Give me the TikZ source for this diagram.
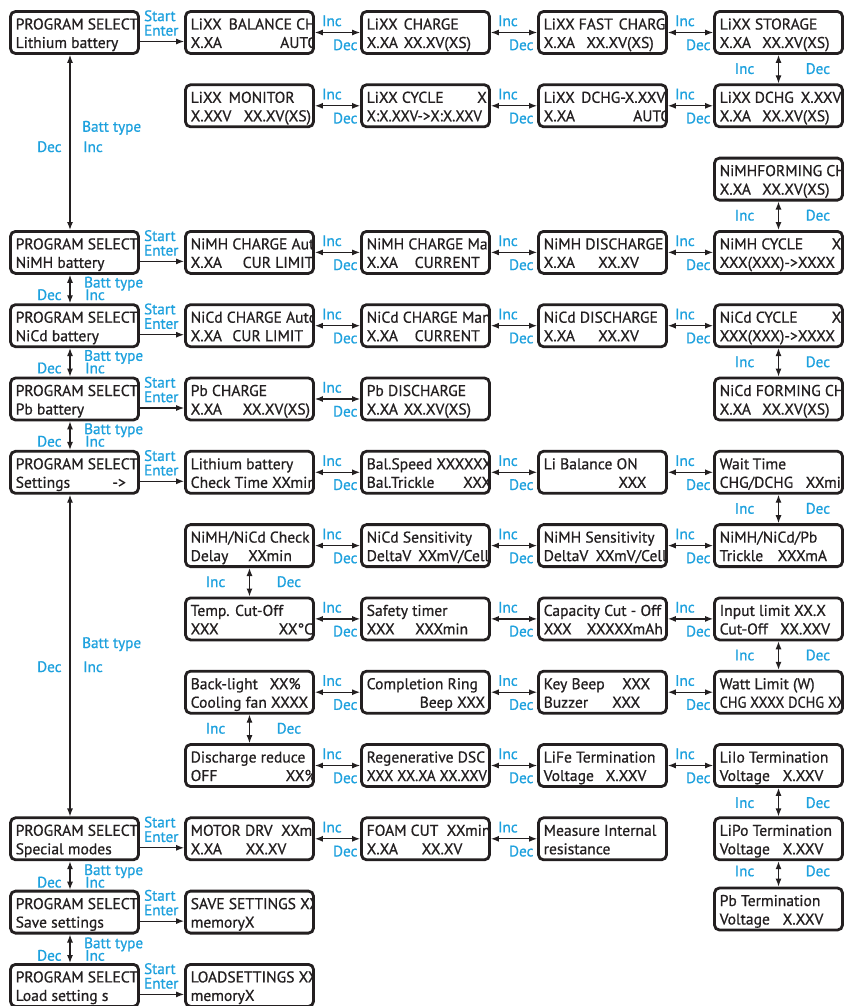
\documentclass[tikz,border=0pt]{standalone}
\usepackage{fontspec}
\setmainfont[FakeBold=0.7]{PT Sans}
\usetikzlibrary{arrows.meta}
\definecolor{ink}{RGB}{35,31,32}
\definecolor{lblue}{RGB}{29,161,222}
\tikzset{
  lcdbox/.style={draw=ink, line width=2.8pt, rounded corners=5pt, minimum width=128pt, minimum height=42pt, inner sep=0pt},
  lcdtxt/.style={anchor=base west, inner sep=0pt, text=ink, font=\fontsize{15.6}{18}\selectfont},
  lbl/.style={anchor=base west, inner sep=0pt, text=lblue, font=\fontsize{15.2}{16}\selectfont},
  conn/.style={draw=ink, line width=1.2pt},
  >={Latex[length=8pt,width=6pt]}
}
\newcommand\tbx[2]{\makebox[#1pt][l]{#2}}
\newcommand\lcd[5]{%
  \begin{scope}
    \clip (#2+1.4,#3+1.4) rectangle (#2+129.6,#3+43.6);
    \node[lcdtxt] (#1-a) at (#2+6.5,#3+19.5) {#4};
    \node[lcdtxt] (#1-b) at (#2+6.5,#3+38) {#5};
  \end{scope}
  \node[lcdbox] (#1) at (#2+65.5,#3+22.5) {};
}
\newcommand\hconn[2]{%
  \draw[conn,<->] (#1.east) -- (#2.west);
  \node[lbl] (#1-#2-i) at ([xshift=7pt,yshift=-16pt]#1.north east) {Inc};
  \node[lbl] (#1-#2-d) at ([xshift=18pt,yshift=-40pt]#1.north east) {Dec};
}
\newcommand\vconn[3]{%
  \draw[conn,<->] (#1.south) -- (#2.north);
  \node[lbl] (#1-#2-i) at ([xshift=-44pt,yshift=-#3pt]#1.south) {Inc};
  \node[lbl] (#1-#2-d) at ([xshift=27pt,yshift=-#3pt]#1.south) {Dec};
}
\newcommand\psgo[2]{%
  \draw[conn,->] ([yshift=-9pt]#1.east) -- ([yshift=-9pt]#2.west);
  \node[lbl] (#1-s) at ([xshift=4pt,yshift=-11pt]#1.north east) {Start};
  \node[lbl] (#1-e) at ([xshift=4pt,yshift=-25.5pt]#1.north east) {Enter};
}
% name A, name B, batt-type baseline, inc/dec baseline, x of Batt/Inc
\newcommand\psconn[5]{%
  \draw[conn,<->] ([xshift=-4.5pt]#1.south) -- ([xshift=-4.5pt]#2.north);
  \node[lbl] (#1-#2-b) at (#5,#3) {Batt type};
  \node[lbl] (#1-#2-d) at (37,#4) {Dec};
  \node[lbl] (#1-#2-i) at (#5+1,#4) {Inc};
}
\begin{document}
\begin{tikzpicture}[x=1pt,y=-1pt]
\useasboundingbox[fill=white] (0,0) rectangle (845,1006);
% ---------- Lithium
\lcd{ps0}{9}{10}{PROGRAM SELECT}{Lithium battery}
\lcd{li1}{184}{10}{\tbx{38}{LiXX}BALANCE CHG}{\tbx{89.5}{X.XA}AUTO}
\lcd{li2}{360}{10}{\tbx{37}{LiXX}CHARGE}{\tbx{37}{X.XA}XX.XV(XS)}
\lcd{li3}{537}{10}{\tbx{35}{LiXX}\tbx{40}{FAST}CHARGE}{\tbx{42.7}{X.XA}XX.XV(XS)}
\lcd{li4}{713}{10}{LiXX STORAGE}{\tbx{42.5}{X.XA}XX.XV(XS)}
\lcd{li5}{184}{83.3}{\tbx{38}{LiXX}MONITOR}{\tbx{53}{X.XXV}XX.XV(XS)}
\lcd{li6}{360}{83.3}{\tbx{110.5}{LiXX CYCLE}X}{\scalebox{0.96}[1]{X:X.XXV->X:X.XXV}}
\lcd{li7}{537}{83.3}{\tbx{37.5}{LiXX}DCHG-X.XXV}{\tbx{89.5}{X.XA}AUTO}
\lcd{li8}{713}{83.3}{\tbx{35}{LiXX}\tbx{46}{DCHG}X.XXV}{\tbx{42.5}{X.XA}XX.XV(XS)}
% ---------- NiMH
\lcd{nm5}{713}{156.6}{NiMHFORMING CHG}{\tbx{42.5}{X.XA}XX.XV(XS)}
\lcd{ps1}{9}{229.9}{PROGRAM SELECT}{NiMH battery}
\lcd{nm1}{184}{229.9}{NiMH CHARGE Auto}{\tbx{52}{X.XA}CUR LIMIT}
\lcd{nm2}{360}{229.9}{NiMH CHARGE Man}{\tbx{48}{X.XA}CURRENT}
\lcd{nm3}{537}{229.9}{NiMH DISCHARGE}{\tbx{54.5}{X.XA}XX.XV}
\lcd{nm4}{713}{229.9}{\tbx{112}{NiMH CYCLE}X}{XXX(XXX)->XXXX}
% ---------- NiCd
\lcd{ps2}{9}{303.2}{PROGRAM SELECT}{NiCd battery}
\lcd{nc1}{184}{303.2}{NiCd CHARGE Auto}{\tbx{41.7}{X.XA}CUR LIMIT}
\lcd{nc2}{360}{303.2}{NiCd CHARGE Man}{\tbx{48}{X.XA}CURRENT}
\lcd{nc3}{537}{303.2}{NiCd DISCHARGE}{\tbx{54.5}{X.XA}XX.XV}
\lcd{nc4}{713}{303.2}{\tbx{112}{NiCd CYCLE}X}{XXX(XXX)->XXXX}
% ---------- Pb
\lcd{ps3}{9}{376.5}{PROGRAM SELECT}{Pb battery}
\lcd{pb1}{184}{376.5}{Pb CHARGE}{\tbx{52}{X.XA}XX.XV(XS)}
\lcd{pb2}{360}{376.5}{Pb DISCHARGE}{\tbx{37}{X.XA}XX.XV(XS)}
\lcd{nc5}{713}{376.5}{NiCd FORMING CHG}{\tbx{42.5}{X.XA}XX.XV(XS)}
% ---------- Settings
\lcd{ps4}{9}{449.8}{PROGRAM SELECT}{\tbx{96.7}{Settings}->}
\lcd{st1}{184}{449.8}{Lithium battery}{Check Time XXmin}
\lcd{st2}{360}{449.8}{Bal.Speed XXXXXX}{\tbx{96.5}{Bal.Trickle}XXX}
\lcd{st3}{537}{449.8}{Li Balance ON}{\hspace*{74.7pt}XXX}
\lcd{st4}{713}{449.8}{\tbx{33}{Wait}Time}{\tbx{86}{CHG/DCHG}XXmin}
\lcd{st5}{184}{523.1}{NiMH/NiCd Check}{\tbx{57.5}{Delay}XXmin}
\lcd{st6}{360}{523.1}{NiCd Sensitivity}{\tbx{51.5}{DeltaV}XXmV/Cell}
\lcd{st7}{537}{523.1}{NiMH Sensitivity}{\tbx{52}{DeltaV}XXmV/Cell}
\lcd{st8}{713}{523.1}{NiMH/NiCd/Pb}{\tbx{58}{Trickle}XXXmA}
\lcd{st9}{184}{596.4}{Temp. Cut-Off}{\tbx{88}{XXX}XX°C}
\lcd{st10}{360}{596.4}{Safety timer}{\tbx{48.5}{XXX}XXXmin}
\lcd{st11}{537}{596.4}{Capacity Cut - Off}{\tbx{43}{XXX}XXXXXmAh}
\lcd{st12}{713}{596.4}{Input limit XX.X}{\tbx{60.5}{Cut-Off}XX.XXV}
\lcd{st13}{184}{669.7}{\tbx{79}{Back-light}XX\%}{Cooling fan XXXX}
\lcd{st14}{360}{669.7}{Completion Ring}{\hspace*{53pt}Beep XXX}
\lcd{st15}{537}{669.7}{\tbx{78.5}{Key Beep}XXX}{\tbx{68.5}{Buzzer}XXX}
\lcd{st16}{713}{669.7}{Watt Limit (W)}{\scalebox{0.92}[1]{CHG XXXX DCHG XX}}
\lcd{st17}{184}{743}{Discharge reduce}{\tbx{95}{OFF}XX\%}
\lcd{st18}{360}{743}{Regenerative DSC}{\scalebox{0.95}[1]{XXX XX.XA XX.XXV}}
\lcd{st19}{537}{743}{LiFe Termination}{\tbx{62}{Voltage}X.XXV}
\lcd{st20}{713}{743}{LiIo Termination}{\tbx{63}{Voltage}X.XXV}
\lcd{st21}{713}{816.3}{LiPo Termination}{\tbx{63}{Voltage}X.XXV}
\lcd{st22}{713}{886.5}{Pb Termination}{\tbx{63}{Voltage}X.XXV}
% ---------- Special / save / load
\lcd{ps5}{9}{816.3}{PROGRAM SELECT}{Special modes}
\lcd{sp1}{184}{816.3}{\tbx{90.5}{MOTOR DRV}XXmin}{\tbx{55}{X.XA}XX.XV}
\lcd{sp2}{360}{816.3}{\tbx{44}{FOAM}\tbx{36}{CUT}XXmin}{\tbx{55}{X.XA}XX.XV}
\lcd{sp3}{537}{816.3}{Measure Internal}{resistance}
\lcd{ps6}{9}{889.6}{PROGRAM SELECT}{Save settings}
\lcd{sv1}{184}{889.6}{SAVE SETTINGS XX}{memoryX}
\lcd{ps7}{9}{962.9}{PROGRAM SELECT}{Load setting s}
\lcd{ld1}{184}{962.9}{LOADSETTINGS XX}{memoryX}
% ---------- start/enter
\psgo{ps0}{li1}
\psgo{ps1}{nm1}
\psgo{ps2}{nc1}
\psgo{ps3}{pb1}
\psgo{ps4}{st1}
\psgo{ps5}{sp1}
\psgo{ps6}{sv1}
\psgo{ps7}{ld1}
% ---------- batt type
\psconn{ps0}{ps1}{131.7}{152}{82}
\psconn{ps1}{ps2}{287.5}{300}{84}
\psconn{ps2}{ps3}{360.8}{373.3}{84}
\psconn{ps3}{ps4}{434.1}{446.6}{84}
\psconn{ps4}{ps5}{648}{672}{82}
\psconn{ps5}{ps6}{875}{887.5}{84}
\psconn{ps6}{ps7}{948.2}{960.7}{84}
% ---------- horizontal
\hconn{li1}{li2}\hconn{li2}{li3}\hconn{li3}{li4}
\hconn{li5}{li6}\hconn{li6}{li7}\hconn{li7}{li8}
\hconn{nm1}{nm2}\hconn{nm2}{nm3}\hconn{nm3}{nm4}
\hconn{nc1}{nc2}\hconn{nc2}{nc3}\hconn{nc3}{nc4}
\hconn{pb1}{pb2}
\hconn{st1}{st2}\hconn{st2}{st3}\hconn{st3}{st4}
\hconn{st5}{st6}\hconn{st6}{st7}\hconn{st7}{st8}
\hconn{st9}{st10}\hconn{st10}{st11}\hconn{st11}{st12}
\hconn{st13}{st14}\hconn{st14}{st15}\hconn{st15}{st16}
\hconn{st17}{st18}\hconn{st18}{st19}\hconn{st19}{st20}
\hconn{sp1}{sp2}\hconn{sp2}{sp3}
% ---------- vertical
\vconn{li4}{li8}{19}
\vconn{nm5}{nm4}{19}
\vconn{nc4}{nc5}{19}
\vconn{st4}{st8}{19}
\vconn{st5}{st9}{19}
\vconn{st12}{st16}{19}
\vconn{st13}{st17}{19}
\vconn{st20}{st21}{20}
\vconn{st21}{st22}{15}
\end{tikzpicture}
\end{document}
